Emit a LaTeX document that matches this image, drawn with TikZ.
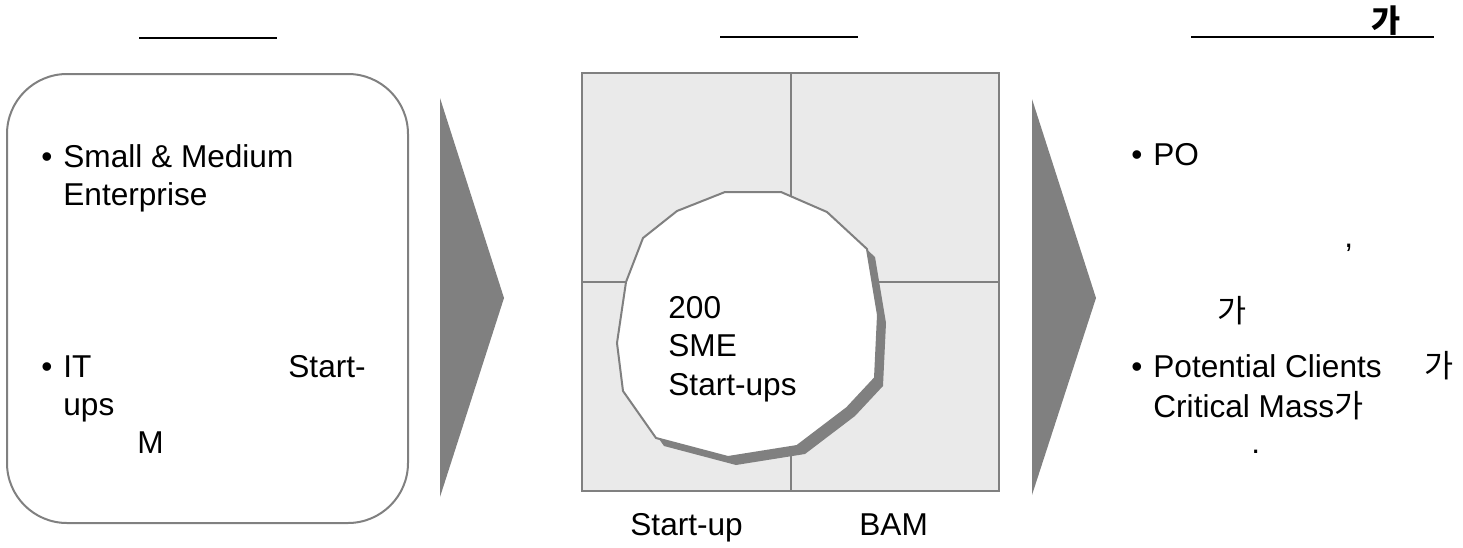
\documentclass[tikz,border=0pt]{standalone}
\usepackage{fontspec}
\setmainfont{Liberation Sans}
\newfontfamily\kr{Noto Sans CJK KR}
\definecolor{edgegray}{HTML}{808080}
\definecolor{cellgray}{HTML}{EAEAEA}
\begin{document}
\begin{tikzpicture}[x=0.5pt,y=-0.5pt,
  txt/.style={anchor=base west,inner sep=0pt,font=\fontsize{15.8}{19.5}\selectfont},
  krtxt/.style={txt,font=\fontsize{15.8}{19.5}\selectfont\kr},
  edge/.style={draw=edgegray,line width=1pt},
  bigarrow/.style={fill=edgegray,draw=none},
  uline/.style={draw=black,line width=1.1pt}]
\useasboundingbox (0,0) rectangle (1463,547);
% headings (underlines)
\coordinate (h1a) at (139,38); \coordinate (h1b) at (277,38);
\coordinate (h2a) at (720,37); \coordinate (h2b) at (858,37);
\coordinate (h3a) at (1191,37); \coordinate (h3b) at (1434,37);
\draw[uline] (h1a) -- (h1b);
\draw[uline] (h2a) -- (h2b);
\draw[uline] (h3a) -- (h3b);
\node[txt,font=\fontsize{15.8}{19.5}\selectfont\kr\bfseries] (hga) at (1371,32) {가};
% left rounded box
\draw[edge,rounded corners=30pt] (7,74) rectangle (408,523);
\node[txt] (b1) at (41,167) {•};
\node[txt] (l1) at (63,167) {Small \& Medium};
\node[txt] (l2) at (63,205) {Enterprise};
\node[txt] (b2) at (41,377) {•};
\node[txt] (l3) at (63,377) {IT};
\node[txt] (l4) at (288,377) {Start-};
\node[txt] (l5) at (63,415) {ups};
\node[txt] (l6) at (137,453) {M};
% arrows
\fill[bigarrow] (440,98) -- (504,298) -- (440,497) -- cycle;
\fill[bigarrow] (1032,99) -- (1096,298) -- (1032,495) -- cycle;
% center grid
\draw[edge,fill=cellgray] (582,73) rectangle (999,491);
\draw[edge] (791,73) -- (791,491);
\draw[edge] (582,282) -- (999,282);
% polygon with shadow
\fill[edgegray,shift={(8,8)}] (725,192) -- (781,192) -- (827,212) -- (867,249) -- (878,315) -- (875,378) -- (847,408) -- (797,446) -- (728,457) -- (656,438) -- (623,391) -- (617,343) -- (626,282) -- (643,238) -- (677,211) -- cycle;
\draw[edge,fill=white] (725,192) -- (781,192) -- (827,212) -- (867,249) -- (878,315) -- (875,378) -- (847,408) -- (797,446) -- (728,457) -- (656,438) -- (623,391) -- (617,343) -- (626,282) -- (643,238) -- (677,211) -- cycle;
\node[txt] (c1) at (668,318) {200};
\node[txt] (c2) at (668,356) {SME};
\node[txt] (c3) at (668,395) {Start-ups};
\node[txt] (c4) at (630,535) {Start-up};
\node[txt] (c5) at (859,535) {BAM};
% right text
\node[txt] (b3) at (1131,165) {•};
\node[txt] (r1) at (1153,165) {PO};
\node[txt] (r2) at (1344,247) {,};
\node[krtxt] (r3) at (1217,322) {가};
\node[txt] (b4) at (1131,377) {•};
\node[txt] (r4) at (1153,377) {Potential Clients};
\node[krtxt] (r5) at (1424,377) {가};
\node[txt] (r6) at (1153,417) {Critical Mass{\kr 가}};
\node[txt] (r7) at (1251,453) {.};
\end{tikzpicture}
\end{document}
